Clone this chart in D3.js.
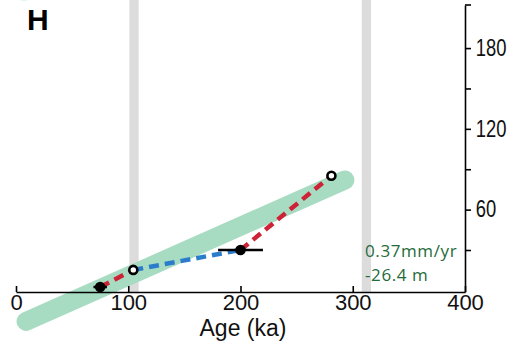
<!DOCTYPE html>
<html>
<head>
<meta charset="utf-8">
<script src="https://cdn.jsdelivr.net/npm/d3@7"></script>
<style>
  body { margin: 0; background: #fff; }
  svg { display: block; font-family: "Liberation Sans", Arial, sans-serif; }
</style>
</head>
<body>
<script>
// data (ka, m)
var ages = [75, 104.5, 200, 281];
var heights = [2.5, 15.2, 30, 85.2];
var ageErr = [6, 0, 20, 0];
var filled = [true, false, true, false];
var segColors = ["#cc2336", "#2b7dcc", "#cc2336"];
var bands = [[101, 109.3], [308, 316.3]];
var fitRate = 0.37;      // m/ka
var fitOffset = -26.4;   // m
var fitAges = [9, 293];
var xTicks = [0, 100, 200, 300, 400];
var yTicks = [30, 60, 90, 120, 150, 180];
var yLabels = [60, 120, 180];

var svgWidth = 531;
var svgHeight = 342;

var xScale = d3.scaleLinear()
               .domain([0, 400])
               .range([16, 465]);

var yScale = d3.scaleLinear()
               .domain([-1.2, 212])
               .range([292, 5]);

var svg = d3.select("body")
            .append("svg")
            .attr("width", svgWidth)
            .attr("height", svgHeight);

// bit of the neighbouring panel marker
svg.append("ellipse")
   .attr("cx", 24).attr("cy", -6)
   .attr("rx", 8).attr("ry", 7)
   .attr("fill", "#e2f4ec");

// grey bands
svg.selectAll("rect.band")
   .data(bands)
   .enter()
   .append("rect")
   .attr("class", "band")
   .attr("x", (d) => xScale(d[0]))
   .attr("y", 0)
   .attr("width", (d) => xScale(d[1]) - xScale(d[0]))
   .attr("height", yScale.range()[0])
   .attr("fill", "#dcdcdc");

// fitted rate line
svg.append("line")
   .attr("x1", xScale(fitAges[0]))
   .attr("y1", yScale(fitRate * fitAges[0] + fitOffset))
   .attr("x2", xScale(fitAges[1]))
   .attr("y2", yScale(fitRate * fitAges[1] + fitOffset))
   .attr("stroke", "#a8dcc2")
   .attr("stroke-width", 19)
   .attr("stroke-linecap", "round");

// dashed segments
svg.selectAll("line.seg")
   .data(segColors)
   .enter()
   .append("line")
   .attr("class", "seg")
   .attr("x1", (d, i) => xScale(ages[i]))
   .attr("y1", (d, i) => yScale(heights[i]))
   .attr("x2", (d, i) => xScale(ages[i + 1]))
   .attr("y2", (d, i) => yScale(heights[i + 1]))
   .attr("stroke", (d) => d)
   .attr("stroke-width", 4.5)
   .attr("stroke-dasharray", "10,6");

// error bars
svg.selectAll("line.err")
   .data(ages.filter((d, i) => ageErr[i] > 0).map((d) => ages.indexOf(d)))
   .enter()
   .append("line")
   .attr("class", "err")
   .attr("x1", (i) => xScale(ages[i] - ageErr[i]))
   .attr("x2", (i) => xScale(ages[i] + ageErr[i]))
   .attr("y1", (i) => yScale(heights[i]))
   .attr("y2", (i) => yScale(heights[i]))
   .attr("stroke", "#000")
   .attr("stroke-width", 2.5);

// points
svg.selectAll("circle.pt")
   .data(ages)
   .enter()
   .append("circle")
   .attr("class", "pt")
   .attr("cx", (d) => xScale(d))
   .attr("cy", (d, i) => yScale(heights[i]))
   .attr("r", (d, i) => filled[i] ? 5.3 : 4)
   .attr("fill", (d, i) => filled[i] ? "#000" : "#fff")
   .attr("stroke", "#000")
   .attr("stroke-width", (d, i) => filled[i] ? 0 : 2.6);

// x axis
var xAxis = d3.axisBottom(xScale)
              .tickValues(xTicks)
              .tickSize(-6)
              .tickSizeOuter(0)
              .tickPadding(2);

var gx = svg.append("g")
            .attr("transform", "translate(0,292)")
            .call(xAxis);
gx.select(".domain").attr("stroke-width", 1.6);
gx.selectAll(".tick line").attr("stroke-width", 1.6);
gx.selectAll("text")
  .attr("font-size", 22)
  .attr("font-family", "Liberation Sans, Arial, sans-serif")
  .attr("fill", "#111");

// y axis (right)
var yAxis = d3.axisRight(yScale)
              .tickValues(yTicks)
              .tickSize(6)
              .tickSizeOuter(0)
              .tickFormat((d) => yLabels.indexOf(d) >= 0 ? d : "");

var gy = svg.append("g")
            .attr("transform", "translate(465,0)")
            .call(yAxis);
gy.select(".domain").attr("stroke-width", 1.6);
gy.selectAll(".tick line").attr("stroke-width", 1.6);
gy.selectAll("text")
  .attr("font-size", 23)
  .attr("font-family", "Liberation Sans, Arial, sans-serif")
  .attr("fill", "#111")
  .attr("x", 13.5)
  .attr("transform", "scale(0.8,1)");

gy.append("line")
  .attr("x1", 0).attr("x2", 6)
  .attr("y1", yScale.range()[1]).attr("y2", yScale.range()[1])
  .attr("stroke", "#000")
  .attr("stroke-width", 1.6);

// axis title
svg.append("text")
   .attr("x", 243)
   .attr("y", 336)
   .attr("text-anchor", "middle")
   .attr("font-size", 23)
   .attr("fill", "#111")
   .text("Age (ka)");

// panel letter
svg.append("text")
   .attr("x", 27)
   .attr("y", 30)
   .attr("font-size", 30)
   .attr("font-weight", "bold")
   .attr("fill", "#000")
   .text("H");

// rate annotation
var note = svg.append("text")
              .attr("font-family", "Open Sans, sans-serif")
              .attr("font-size", 17)
              .attr("letter-spacing", 0.6)
              .attr("fill", "#246b3a");
note.append("tspan").attr("x", 365).attr("y", 257).text("0.37mm/yr");
note.append("tspan").attr("x", 365).attr("y", 281).text("-26.4 m");
</script>
</body>
</html>
